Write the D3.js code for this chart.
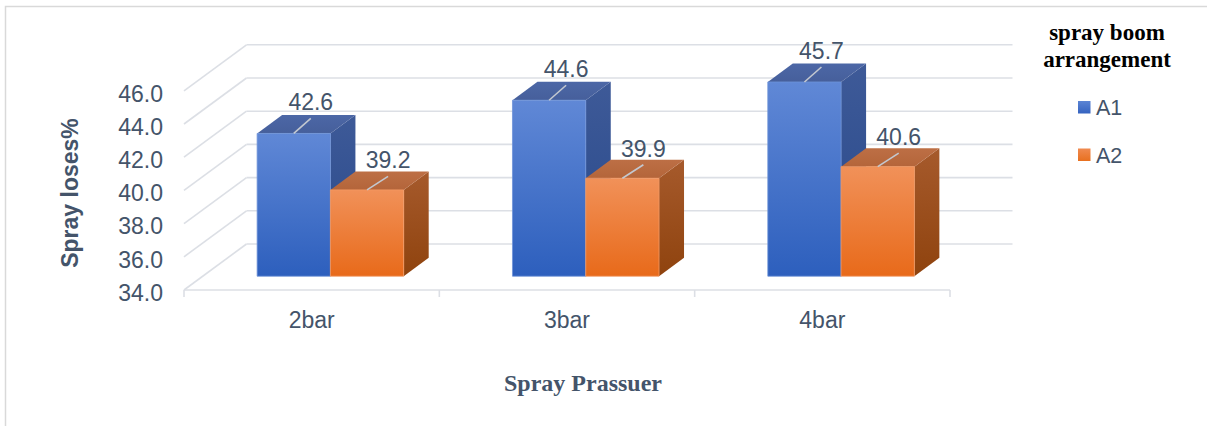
<!DOCTYPE html>
<html>
<head>
<meta charset="utf-8">
<script src="https://cdn.jsdelivr.net/npm/d3@7"></script>
<style>
  html, body { margin: 0; padding: 0; background: #fff; }
  svg { display: block; }
</style>
</head>
<body>
<svg id="chart" width="1207" height="426"></svg>
<script>
// Chart data
const categories = ["2bar", "3bar", "4bar"];
const seriesNames = ["A1", "A2"];
const valuesA1 = [42.6, 44.6, 45.7];
const valuesA2 = [39.2, 39.9, 40.6];
const yTicks = [34, 36, 38, 40, 42, 44, 46];

const svg = d3.select("#chart");
const textColor = "#44546a";
const gridColor = "#dcdfe5";
const sans = "'Liberation Sans', Arial, sans-serif";
const serif = "'Liberation Serif', 'Times New Roman', serif";

// Plot frame (front plane) and oblique depth offset
const left = 184, right = 950;
const DX = 62.5, DY = 46;            // full depth of the box
const zFront = 0.30, zBack = 0.70;   // depth slice occupied by the bars

const x = d3.scaleBand().domain(categories).range([left, right]).paddingInner(0).paddingOuter(0);
const y = d3.scaleLinear().domain([34, 46]).range([290, 90.8]);
const groupPad = 0.213;
const xs = d3.scaleBand().domain(seriesNames)
  .range([x.bandwidth() * groupPad, x.bandwidth() * (1 - groupPad)]).padding(0);

const proj = (px, v, z) => [px + z * DX, y(v) - z * DY];
const poly = pts => pts.map(p => p.join(",")).join(" ");

// Outer chart border
svg.append("rect").attr("x", 5.5).attr("y", 6.5).attr("width", 1220).attr("height", 440)
  .attr("fill", "none").attr("stroke", "#d9d9d9").attr("stroke-width", 1.5);

// Gradients
const defs = svg.append("defs");
function vgrad(id, c1, c2) {
  const g = defs.append("linearGradient").attr("id", id)
    .attr("x1", 0).attr("y1", 0).attr("x2", 0).attr("y2", 1);
  g.append("stop").attr("offset", "0%").attr("stop-color", c1);
  g.append("stop").attr("offset", "100%").attr("stop-color", c2);
}
vgrad("frontA1", "#6088d6", "#2d5fbd");
vgrad("topA1", "#4c67a6", "#465f9b");
vgrad("sideA1", "#3e5a98", "#27488a");
vgrad("frontA2", "#f19159", "#e86a1a");
vgrad("topA2", "#bd6f45", "#b4653a");
vgrad("sideA2", "#a65a2c", "#8f430e");
vgrad("legA1", "#5b84d4", "#3563c0");
vgrad("legA2", "#f08a50", "#e8701f");

const faceFill = {
  A1: { front: "url(#frontA1)", top: "url(#topA1)", side: "url(#sideA1)" },
  A2: { front: "url(#frontA2)", top: "url(#topA2)", side: "url(#sideA2)" }
};

// Back wall gridlines and left wall diagonals
const grid = svg.append("g").attr("stroke", gridColor).attr("stroke-width", 1.6).attr("fill", "none");
grid.selectAll("line.back").data(yTicks).join("line")
  .attr("x1", d => proj(left, d, 1)[0]).attr("y1", d => proj(left, d, 1)[1])
  .attr("x2", d => proj(right, d, 1)[0]).attr("y2", d => proj(right, d, 1)[1]);
grid.selectAll("line.side").data(yTicks).join("line")
  .attr("x1", d => proj(left, d, 0)[0]).attr("y1", d => proj(left, d, 0)[1])
  .attr("x2", d => proj(left, d, 1)[0]).attr("y2", d => proj(left, d, 1)[1]);
// Floor front edge
grid.append("line")
  .attr("x1", left).attr("y1", y(34)).attr("x2", right).attr("y2", y(34));
// Category ticks
const tickXs = categories.map(c => x(c)).concat([right]);
grid.selectAll("line.tick").data(tickXs).join("line")
  .attr("x1", d => d).attr("x2", d => d)
  .attr("y1", y(34)).attr("y2", y(34) + 7);

// Y axis labels
const yAxis = d3.axisLeft(y).tickValues(yTicks).tickFormat(d3.format(".1f"))
  .tickSize(0).tickPadding(21);
const yg = svg.append("g").attr("transform", `translate(${left},0)`).call(yAxis);
yg.select(".domain").remove();
yg.selectAll("text").attr("fill", textColor).style("font-family", sans)
  .style("font-size", "23px").attr("dy", "0.45em");

// Category labels
svg.append("g").selectAll("text").data(categories).join("text")
  .attr("x", d => x(d) + x.bandwidth() / 2).attr("y", 328)
  .attr("text-anchor", "middle").attr("fill", textColor)
  .style("font-family", sans).style("font-size", "23px").text(d => d);

// Bars
const rows = [];
categories.forEach((c, i) => {
  rows.push({ cat: c, s: "A1", v: valuesA1[i] });
  rows.push({ cat: c, s: "A2", v: valuesA2[i] });
});

const bars = svg.append("g");
rows.forEach(r => {
  const x0 = x(r.cat) + xs(r.s), x1 = x0 + xs.bandwidth();
  const g = bars.append("g");
  const fTL = proj(x0, r.v, zFront), fTR = proj(x1, r.v, zFront);
  const fBR = proj(x1, 34, zFront), fBL = proj(x0, 34, zFront);
  const bTL = proj(x0, r.v, zBack), bTR = proj(x1, r.v, zBack), bBR = proj(x1, 34, zBack);
  // side, top, then front face
  g.append("polygon").attr("points", poly([fTR, bTR, bBR, fBR]))
    .attr("fill", faceFill[r.s].side);
  g.append("polygon").attr("points", poly([fTL, fTR, bTR, bTL]))
    .attr("fill", faceFill[r.s].top);
  g.append("polygon").attr("points", poly([fTL, fTR, fBR, fBL]))
    .attr("fill", faceFill[r.s].front)
    .attr("stroke", r.s === "A1" ? "#6f93d8" : "#f29a66").attr("stroke-width", 0.8);
  r.fx = (fTL[0] + fTR[0]) / 2;
  r.fy = fTL[1];
});

// Data labels with leader lines
const labels = svg.append("g");
rows.forEach(r => {
  const ex = r.fx + (r.s === "A1" ? 17 : 21), ey = r.fy - (r.s === "A1" ? 15 : 13.5);
  labels.append("line").attr("x1", r.fx).attr("y1", r.fy).attr("x2", ex).attr("y2", ey)
    .attr("stroke", "#c3c8d0").attr("stroke-width", 1.6);
  labels.append("text").attr("x", ex).attr("y", ey - 8)
    .attr("text-anchor", "middle").attr("fill", textColor)
    .style("font-family", sans).style("font-size", "23px")
    .text(d3.format(".1f")(r.v));
});

// Axis titles
svg.append("text")
  .attr("transform", "translate(78,193) rotate(-90)")
  .attr("text-anchor", "middle").attr("fill", textColor)
  .style("font-family", sans).style("font-size", "23px").style("font-weight", "bold")
  .text("Spray loses%");
svg.append("text").attr("x", 583).attr("y", 391)
  .attr("text-anchor", "middle").attr("fill", textColor)
  .style("font-family", serif).style("font-size", "24px").style("font-weight", "bold")
  .text("Spray Prassuer");

// Legend
const legend = svg.append("g");
legend.append("text").attr("x", 1107).attr("y", 40).attr("text-anchor", "middle")
  .attr("fill", "#000").style("font-family", serif).style("font-size", "23px")
  .style("font-weight", "bold").text("spray boom");
legend.append("text").attr("x", 1107).attr("y", 67).attr("text-anchor", "middle")
  .attr("fill", "#000").style("font-family", serif).style("font-size", "23px")
  .style("font-weight", "bold").text("arrangement");
seriesNames.forEach((s, i) => {
  const ly = 101 + i * 47.5;
  legend.append("rect").attr("x", 1078).attr("y", ly).attr("width", 12.5).attr("height", 12.5)
    .attr("fill", `url(#leg${s})`);
  legend.append("text").attr("x", 1096).attr("y", ly + 14).attr("fill", textColor)
    .style("font-family", sans).style("font-size", "21.5px").text(s);
});
</script>
</body>
</html>
